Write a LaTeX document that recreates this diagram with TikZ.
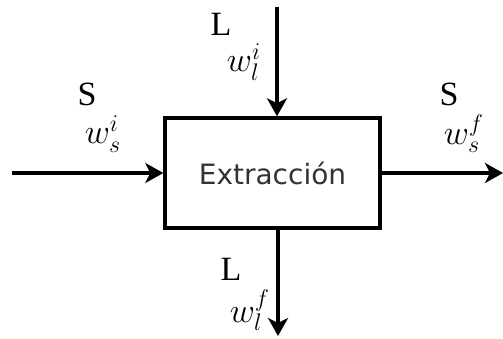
\documentclass[tikz,border=0pt]{standalone}
\usepackage{fontspec}
\setmainfont{Liberation Serif}
\newfontfamily\boxfont{DejaVu Sans}
\usepackage{tikz}
\usetikzlibrary{positioning, arrows.meta}
\definecolor{ink}{RGB}{0,0,0}
\definecolor{graytext}{RGB}{51,51,51}

\begin{document}
\begin{tikzpicture}[
  x=0.5pt, y=-0.5pt,
  unit/.style={rectangle, draw=ink, line width=1.7pt, fill=white,
               minimum width=107.5pt, minimum height=55pt, inner sep=0pt,
               font=\boxfont\fontsize{14}{16}\selectfont, text=graytext},
  flow/.style={draw=ink, line width=1.7pt,
               -{Stealth[length=9pt, width=10pt, inset=2.5pt]}},
  strm/.style={font=\fontsize{17}{19}\selectfont, inner sep=0pt},
  frac/.style={font=\fontsize{17.28}{20}\selectfont, inner sep=0pt}]
  \useasboundingbox (0,0) rectangle (503,338);
  \node[unit] (ext) at (272.5,173) {Extracción};
  % streams in and out
  \coordinate (sin)  at (12,173);
  \coordinate (sout) at (503,173);
  \coordinate (lin)  at (277,7);
  \coordinate (lout) at (278,336);
  \draw[flow] (sin) -- (ext.west);
  \draw[flow] (ext.east) -- (sout);
  \draw[flow] (lin) -- (lin |- ext.north);
  \draw[flow] (lout |- ext.south) -- (lout);
  % labels
  \node[strm] (ltop) at (221,24) {L};
  \node[frac] (wli) at (244,62) {$w_l^i$};
  \node[strm] (sleft) at (87,94) {S};
  \node[frac] (wsi) at (103,134) {$w_s^i$};
  \node[strm] (sright) at (449,94) {S};
  \node[frac] (wsf) at (464,134) {$w_s^f$};
  \node[strm] (lbot) at (231,269) {L};
  \node[frac] (wlf) at (250,310) {$w_l^f$};
\end{tikzpicture}
\end{document}
